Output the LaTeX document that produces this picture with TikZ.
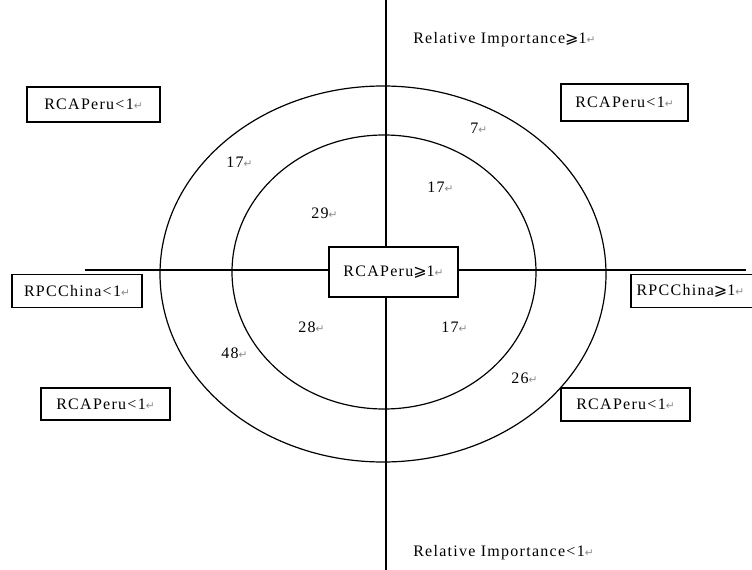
\documentclass[tikz,border=0pt]{standalone}
\usepackage{fontspec}
\setmainfont{Liberation Serif}[LetterSpace=8]
\newfontfamily\symf{DejaVu Sans}
\newcommand{\pmk}{{\symf\color{black!45}\fontsize{8}{9}\selectfont ↵}}
\newcommand{\geqsl}{{\symf ⩾}}
\tikzset{
  lbl/.style={inner sep=0pt, font=\fontsize{12}{14}\selectfont},
  numlbl/.style={lbl, anchor=west},
  boxn/.style={draw, fill=white, line width=0.9pt, inner sep=0pt, font=\fontsize{12}{14}\selectfont},
  axis/.style={line width=0.9pt},
  ring/.style={line width=0.9pt}
}
\begin{document}
\begin{tikzpicture}[x=0.75pt,y=-0.75pt]
\useasboundingbox (0,0) rectangle (752,570);
\fill[white] (0,0) rectangle (752,570);
% axes
\coordinate (axtop) at (386,0);
\coordinate (axbot) at (386,570);
\coordinate (axleft) at (85,270);
\coordinate (axright) at (746,270);
\draw[axis] (axtop) -- (axbot);
\draw[axis] (axleft) -- (axright);
% rings
\draw[ring] (383,274) ellipse [x radius=223, y radius=188];
\draw[ring] (384,272) ellipse [x radius=152, y radius=137];
% center box
\node[boxn, minimum width=129*0.75pt, minimum height=50*0.75pt] (core) at (393.5,272) {RCAPeru\geqsl1\pmk};
% corner boxes
\node[boxn, minimum width=133*0.75pt, minimum height=35*0.75pt] (tl) at (93.5,104.5) {RCAPeru<1\pmk};
\node[boxn, minimum width=127*0.75pt, minimum height=37*0.75pt] (tr) at (624.5,102.5) {RCAPeru<1\pmk};
\node[boxn, minimum width=130*0.75pt, minimum height=33*0.75pt] (ml) at (77,291) {RPCChina<1\pmk};
\node[boxn, minimum width=129*0.75pt, minimum height=33*0.75pt, text width=118*0.75pt, align=left] (mr) at (695.5,291) {RPCChina\geqsl1\pmk};
\node[boxn, minimum width=129*0.75pt, minimum height=32*0.75pt] (bl) at (105.5,404) {RCAPeru<1\pmk};
\node[boxn, minimum width=129*0.75pt, minimum height=33*0.75pt] (br) at (625.5,404.5) {RCAPeru<1\pmk};
% axis labels
\node[numlbl] (ritop) at (413,40) {Relative Importance\geqsl1\pmk};
\node[numlbl] (ribot) at (413,553) {Relative Importance<1\pmk};
% counts
\node[numlbl] (n7) at (470,128) {7\pmk};
\node[numlbl] (n17a) at (226,162) {17\pmk};
\node[numlbl] (n17b) at (427,187) {17\pmk};
\node[numlbl] (n29) at (311,213) {29\pmk};
\node[numlbl] (n28) at (298,327) {28\pmk};
\node[numlbl] (n17c) at (441,327) {17\pmk};
\node[numlbl] (n48) at (221,353) {48\pmk};
\node[numlbl] (n26) at (511,378) {26\pmk};
\end{tikzpicture}
\end{document}
